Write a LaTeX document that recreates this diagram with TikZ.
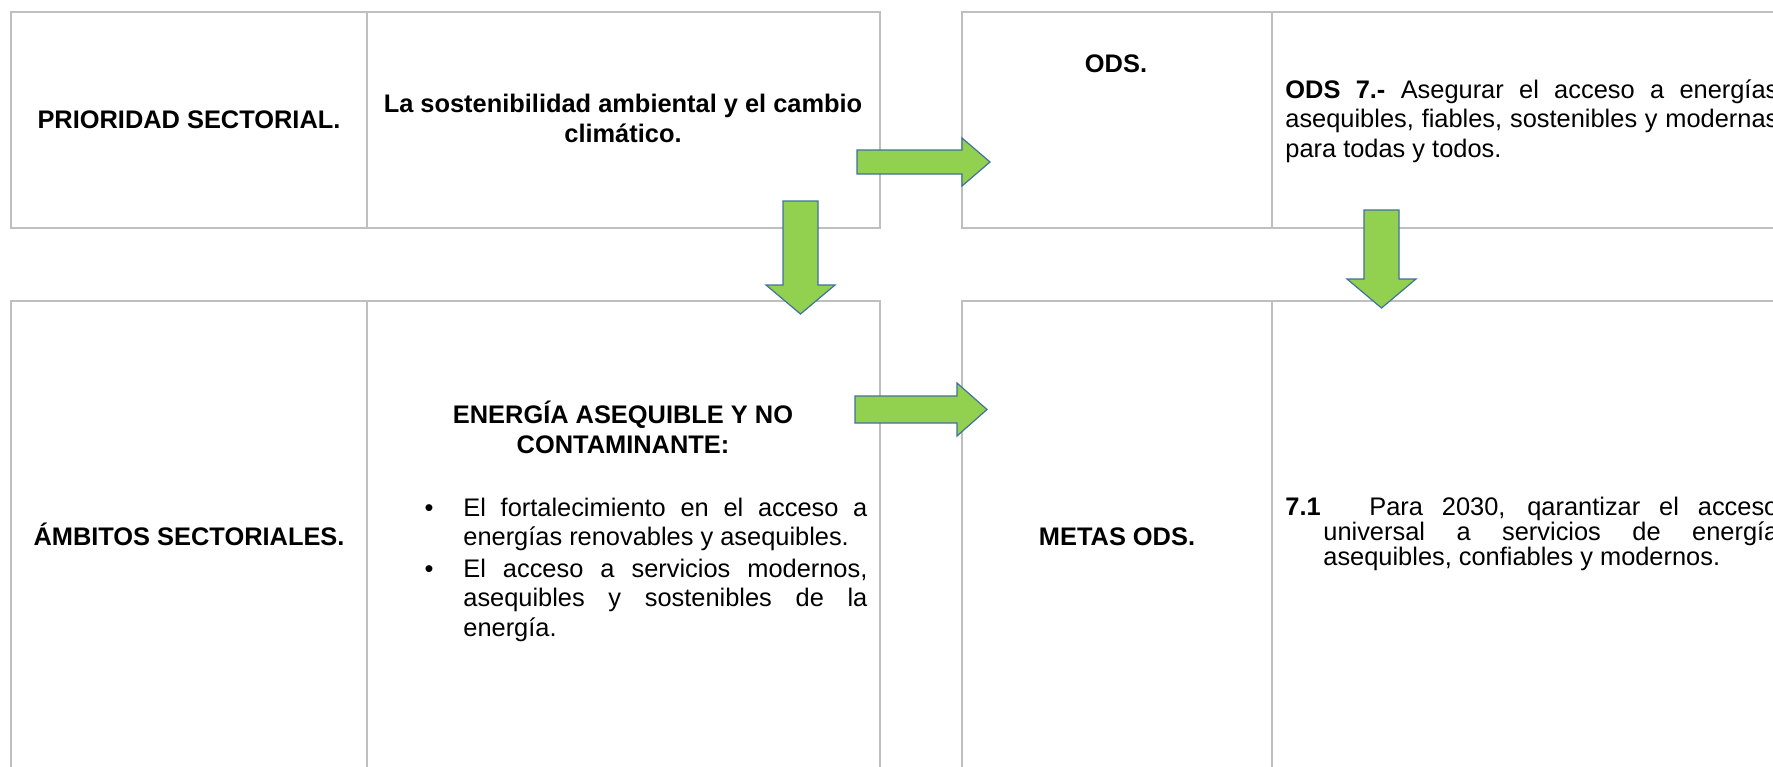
\documentclass[tikz,border=0pt]{standalone}
\usepackage{fontspec}
\setmainfont{Liberation Sans}
\usetikzlibrary{positioning}
\definecolor{tablegray}{RGB}{191,191,191}
\definecolor{arrowgreen}{RGB}{146,208,80}
\definecolor{arrowedge}{RGB}{65,113,156}
\tikzset{
  tableframe/.style={draw=tablegray, line width=1.3pt},
  celldiv/.style={draw=tablegray, line width=0.8pt},
  blockarrow/.style={fill=arrowgreen, draw=arrowedge, line width=0.6pt, line join=miter},
  txt/.style={inner sep=0pt, font=\fontsize{12.7}{14.75}\selectfont},
  lbl/.style={txt, anchor=base, font=\fontsize{12.7}{14.75}\selectfont\bfseries},
  para/.style={txt, anchor=base west, text width=#1, align=justify}
}

\begin{document}
\begin{tikzpicture}[x=0.5pt,y=-0.5pt]
\useasboundingbox (0,0) rectangle (1773,766);
\fill[white] (0,0) rectangle (1773,766);
\draw[tableframe] (11,12) rectangle (880,228);
\draw[celldiv] (367,12) -- (367,228);
\draw[tableframe] (962,12) rectangle (1800,228);
\draw[celldiv] (1272,12) -- (1272,228);
\draw[tableframe] (11,301) rectangle (880,800);
\draw[celldiv] (367,301) -- (367,800);
\draw[tableframe] (962,301) rectangle (1800,800);
\draw[celldiv] (1272,301) -- (1272,800);
\node[lbl] (prio) at (189,128) {PRIORIDAD SECTORIAL.};
\node[lbl, align=center] (sost) at (623,142) {La sostenibilidad ambiental y el cambio\\climático.};
\node[lbl] (ods) at (1116,72) {ODS.};
\node[para=246.5pt] (ods7) at (1285,98) {\noindent\textbf{ODS 7.-} Asegurar el acceso a energías\linebreak asequibles, fiables, sostenibles y modernas\linebreak para todas y todos.};
\node[lbl] (ambitos) at (189,545) {ÁMBITOS SECTORIALES.};
\node[lbl, align=center] (energia) at (623,453) {ENERGÍA ASEQUIBLE Y NO\\CONTAMINANTE:};
\node[txt, anchor=base] (dot1) at (429,516) {\textbullet};
\node[para=202pt] (item1) at (463,516) {\noindent El fortalecimiento en el acceso a\linebreak energías renovables y asequibles.};
\node[txt, anchor=base] (dot2) at (429,577) {\textbullet};
\node[para=202pt] (item2) at (463,577) {\noindent El acceso a servicios modernos,\linebreak asequibles y sostenibles de la\linebreak energía.};
\node[lbl] (metas) at (1117,545) {METAS ODS.};
\node[para=246.5pt, font=\fontsize{12.7}{12.5}\selectfont] (meta71) at (1285,515) {\noindent\hangindent=19pt\hangafter=1\makebox[42pt][l]{\textbf{7.1}}Para 2030, qarantizar el acceso\linebreak universal a servicios de energía\linebreak asequibles, confiables y modernos.\par};
\draw[blockarrow] (857,150) -- (962,150) -- (962,138) -- (990,162) -- (962,186) -- (962,174) -- (857,174) -- cycle;
\draw[blockarrow] (855,396) -- (957,396) -- (957,383) -- (987,409.5) -- (957,436) -- (957,423) -- (855,423) -- cycle;
\draw[blockarrow] (783,201) -- (818,201) -- (818,285) -- (835,285) -- (800.5,314) -- (766,285) -- (783,285) -- cycle;
\draw[blockarrow] (1364,210) -- (1399,210) -- (1399,279) -- (1416,279) -- (1381.5,308) -- (1347,279) -- (1364,279) -- cycle;
\end{tikzpicture}
\end{document}
